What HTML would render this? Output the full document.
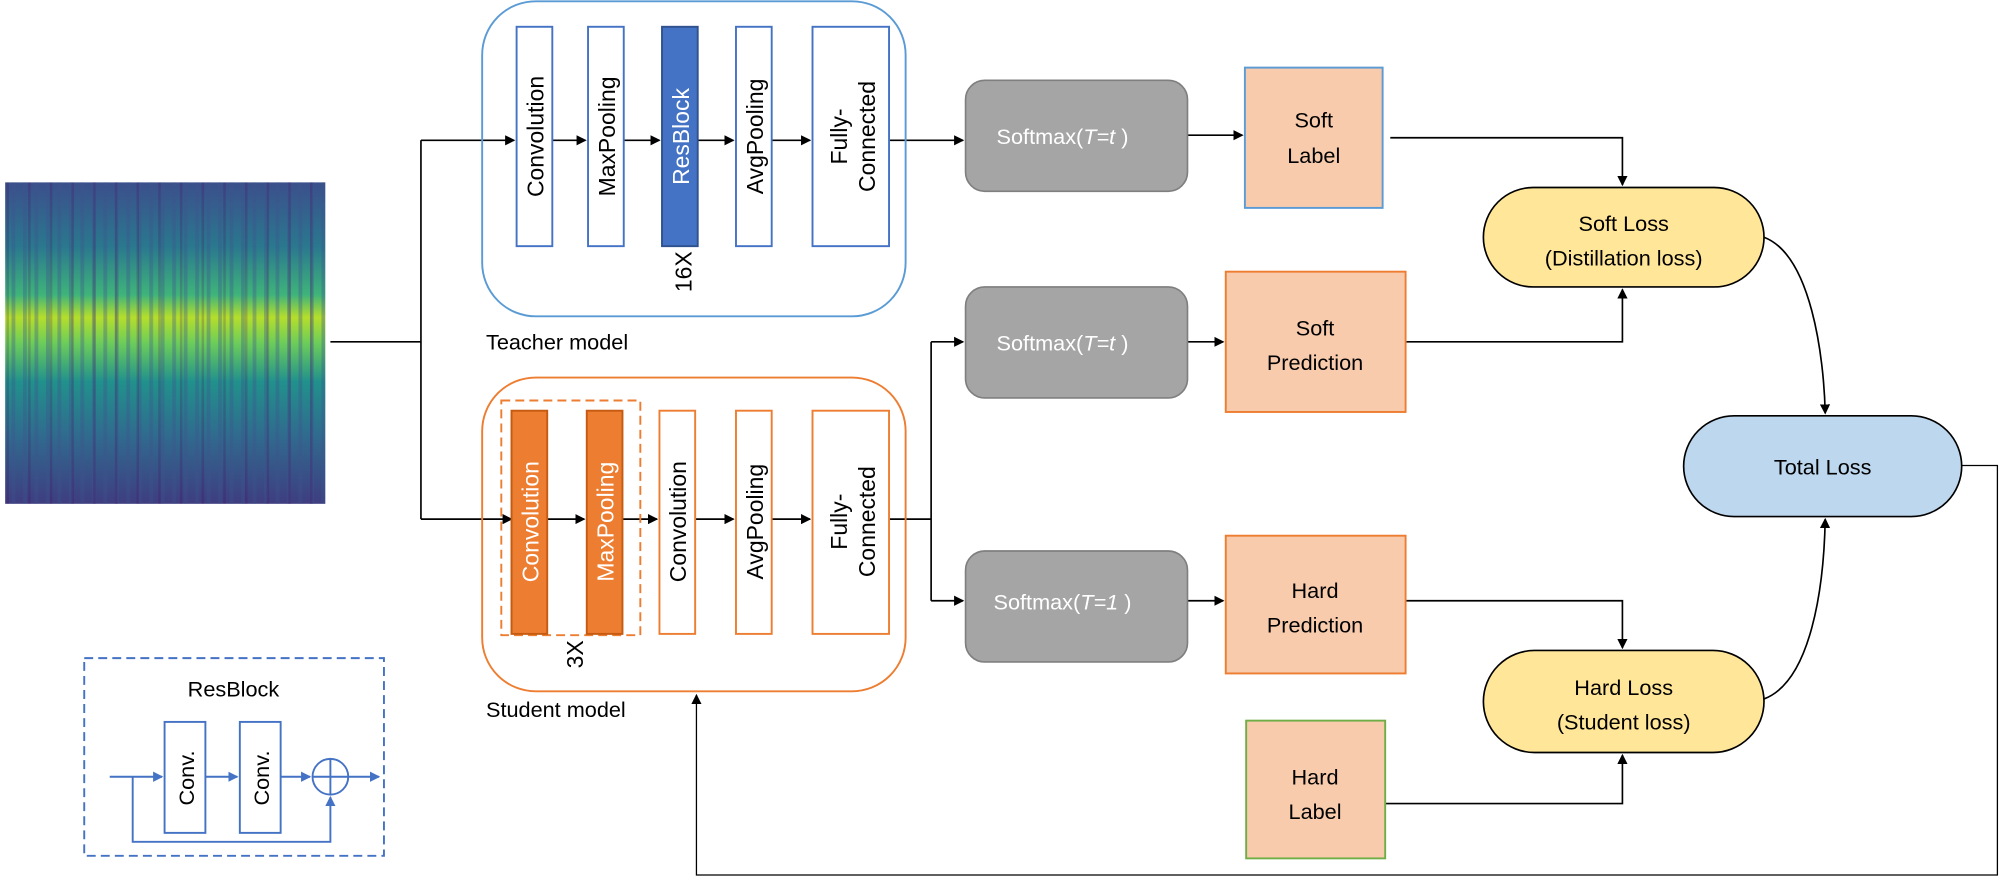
<!DOCTYPE html>
<html><head><meta charset="utf-8"><style>html,body{margin:0;padding:0;background:#fff}svg{display:block}text{font-family:"Liberation Sans",sans-serif}</style></head><body>
<svg width="2000" height="877" viewBox="0 0 1568 687.6" xmlns="http://www.w3.org/2000/svg">
<defs>
<marker id="a" markerWidth="8" markerHeight="8" refX="7" refY="4" orient="auto" markerUnits="userSpaceOnUse"><path d="M0,0L8,4L0,8z" fill="#000"/></marker>
<marker id="b" markerWidth="8" markerHeight="8" refX="7" refY="4" orient="auto" markerUnits="userSpaceOnUse"><path d="M0,0L8,4L0,8z" fill="#4472c4"/></marker>
<linearGradient id="sv" x1="0" y1="0" x2="0" y2="1">
<stop offset="0" stop-color="#3b4f8c"/><stop offset="0.2" stop-color="#2a788e"/><stop offset="0.35" stop-color="#3fb47a"/><stop offset="0.42" stop-color="#b5de2b"/><stop offset="0.5" stop-color="#6ccd5a"/><stop offset="0.62" stop-color="#21918c"/><stop offset="0.8" stop-color="#31688e"/><stop offset="1" stop-color="#3e3d80"/></linearGradient>
<pattern id="st" width="9" height="10" patternUnits="userSpaceOnUse"><rect width="3" height="10" fill="#3b528b" opacity="0.35"/></pattern>
<pattern id="st2" width="17" height="10" patternUnits="userSpaceOnUse"><rect x="5" width="2" height="10" fill="#440154" opacity="0.2"/></pattern>
</defs>
<rect x="4" y="143" width="251" height="252" fill="url(#sv)"/>
<rect x="4" y="143" width="251" height="252" fill="url(#st)"/>
<rect x="4" y="143" width="251" height="252" fill="url(#st2)"/>
<g fill="none" stroke="#000" stroke-width="1.3">
<path d="M259,268H330M330,110V407"/>
<path d="M330,110H403" marker-end="url(#a)"/>
<path d="M330,407H401" marker-end="url(#a)"/>
<path d="M433,110H459" marker-end="url(#a)"/>
<path d="M489,110H517" marker-end="url(#a)"/>
<path d="M547,110H575" marker-end="url(#a)"/>
<path d="M605,110H635" marker-end="url(#a)"/>
<path d="M697,110H755" marker-end="url(#a)"/>
<path d="M429,407H458" marker-end="url(#a)"/>
<path d="M488,407H515" marker-end="url(#a)"/>
<path d="M545,407H575" marker-end="url(#a)"/>
<path d="M605,407H635" marker-end="url(#a)"/>
<path d="M697,407H730M730,268V471"/>
<path d="M730,268H755" marker-end="url(#a)"/>
<path d="M730,471H755" marker-end="url(#a)"/>
<path d="M931,106H974" marker-end="url(#a)"/>
<path d="M931,268H959" marker-end="url(#a)"/>
<path d="M931,471H959" marker-end="url(#a)"/>
<path d="M1090,108H1272V145" marker-end="url(#a)"/>
<path d="M1102,268H1272V227" marker-end="url(#a)"/>
<path d="M1102,471H1272V508" marker-end="url(#a)"/>
<path d="M1086,630H1272V592" marker-end="url(#a)"/>
<path d="M1383,186C1420,200 1430,280 1431,324" marker-end="url(#a)"/>
<path d="M1383,548C1420,534 1430,460 1431,407" marker-end="url(#a)"/>
<path d="M1538,365H1566V686H546V545" marker-end="url(#a)" stroke-width="1"/>
</g>
<rect x="378" y="1" width="332" height="247" rx="42" fill="none" stroke="#5b9bd5" stroke-width="1.5"/>
<g stroke="#4472c4" stroke-width="1.5" fill="#fff">
<rect x="405" y="21" width="28" height="172"/><rect x="461" y="21" width="28" height="172"/>
<rect x="519" y="21" width="28" height="172" fill="#4472c4" stroke="#2f528f"/>
<rect x="577" y="21" width="28" height="172"/><rect x="637" y="21" width="60" height="172"/>
</g>
<g font-size="18" text-anchor="middle" fill="#000">
<text transform="translate(426,107) rotate(-90)">Convolution</text>
<text transform="translate(482,107) rotate(-90)">MaxPooling</text>
<text transform="translate(540,107) rotate(-90)" fill="#fff">ResBlock</text>
<text transform="translate(598,107) rotate(-90)">AvgPooling</text>
<text transform="translate(664,107) rotate(-90)">Fully-</text>
<text transform="translate(686,107) rotate(-90)">Connected</text>
<text transform="translate(542,213) rotate(-90)">16X</text>
</g>
<text x="381" y="274" font-size="17">Teacher model</text>
<rect x="378" y="296" width="332" height="246" rx="42" fill="none" stroke="#ed7d31" stroke-width="1.5"/>
<rect x="393" y="314" width="109" height="184" fill="none" stroke="#ed7d31" stroke-width="1.5" stroke-dasharray="7,4"/>
<g stroke="#ed7d31" stroke-width="1.5" fill="#fff">
<rect x="401" y="322" width="28" height="175" fill="#ed7d31" stroke="#c55a11"/>
<rect x="460" y="322" width="28" height="175" fill="#ed7d31" stroke="#c55a11"/>
<rect x="517" y="322" width="28" height="175"/><rect x="577" y="322" width="28" height="175"/>
<rect x="637" y="322" width="60" height="175"/>
</g>
<g font-size="18" text-anchor="middle" fill="#000">
<text transform="translate(422,409) rotate(-90)" fill="#fff">Convolution</text>
<text transform="translate(481,409) rotate(-90)" fill="#fff">MaxPooling</text>
<text transform="translate(538,409) rotate(-90)">Convolution</text>
<text transform="translate(598,409) rotate(-90)">AvgPooling</text>
<text transform="translate(664,409) rotate(-90)">Fully-</text>
<text transform="translate(686,409) rotate(-90)">Connected</text>
<text transform="translate(457,513) rotate(-90)">3X</text>
</g>
<text x="381" y="562" font-size="17">Student model</text>
<rect x="66" y="516" width="235" height="155" fill="none" stroke="#4472c4" stroke-width="1.5" stroke-dasharray="7,4"/>
<text x="183" y="546" font-size="17" text-anchor="middle">ResBlock</text>
<g stroke="#4472c4" stroke-width="1.5" fill="none">
<rect x="129" y="566" width="32" height="87" fill="#fff"/><rect x="188" y="566" width="32" height="87" fill="#fff"/>
<circle cx="259" cy="609" r="14"/><path d="M245,609H273M259,595V623"/>
<path d="M86,609H127" marker-end="url(#b)"/>
<path d="M161,609H186" marker-end="url(#b)"/>
<path d="M220,609H243" marker-end="url(#b)"/>
<path d="M273,609H297" marker-end="url(#b)"/>
<path d="M104,609V660H259V625" marker-end="url(#b)"/>
</g>
<text transform="translate(152,610) rotate(-90)" font-size="17" text-anchor="middle">Conv.</text>
<text transform="translate(211,610) rotate(-90)" font-size="17" text-anchor="middle">Conv.</text>
<g fill="#a5a5a5" stroke="#7f7f7f" stroke-width="1.3">
<rect x="757" y="63" width="174" height="87" rx="15"/><rect x="757" y="225" width="174" height="87" rx="15"/><rect x="757" y="432" width="174" height="87" rx="15"/>
</g>
<g font-size="17" fill="#fff" text-anchor="middle">
<text x="833" y="113">Softmax(<tspan font-style="italic">T=t</tspan> )</text>
<text x="833" y="275">Softmax(<tspan font-style="italic">T=t</tspan> )</text>
<text x="833" y="478">Softmax(<tspan font-style="italic">T=1</tspan> )</text>
</g>
<rect x="976" y="53" width="108" height="110" fill="#f8cbad" stroke="#5b9bd5" stroke-width="1.5"/>
<rect x="961" y="213" width="141" height="110" fill="#f8cbad" stroke="#ed7d31" stroke-width="1.5"/>
<rect x="961" y="420" width="141" height="108" fill="#f8cbad" stroke="#ed7d31" stroke-width="1.5"/>
<rect x="977" y="565" width="109" height="108" fill="#f8cbad" stroke="#70ad47" stroke-width="1.5"/>
<rect x="1163" y="147" width="220" height="78" rx="39" fill="#ffe699" stroke="#000" stroke-width="1.3"/>
<rect x="1163" y="510" width="220" height="80" rx="40" fill="#ffe699" stroke="#000" stroke-width="1.3"/>
<rect x="1320" y="326" width="218" height="79" rx="39.5" fill="#bdd7ee" stroke="#000" stroke-width="1.3"/>
<g font-size="17" text-anchor="middle" fill="#000">
<text x="1030" y="100">Soft</text><text x="1030" y="128">Label</text>
<text x="1031" y="263">Soft</text><text x="1031" y="290">Prediction</text>
<text x="1031" y="469">Hard</text><text x="1031" y="496">Prediction</text>
<text x="1031" y="615">Hard</text><text x="1031" y="642">Label</text>
<text x="1273" y="181">Soft Loss</text><text x="1273" y="208">(Distillation  loss)</text>
<text x="1273" y="545">Hard Loss</text><text x="1273" y="572">(Student loss)</text>
<text x="1429" y="372">Total Loss</text>
</g>
</svg>
</body></html>
